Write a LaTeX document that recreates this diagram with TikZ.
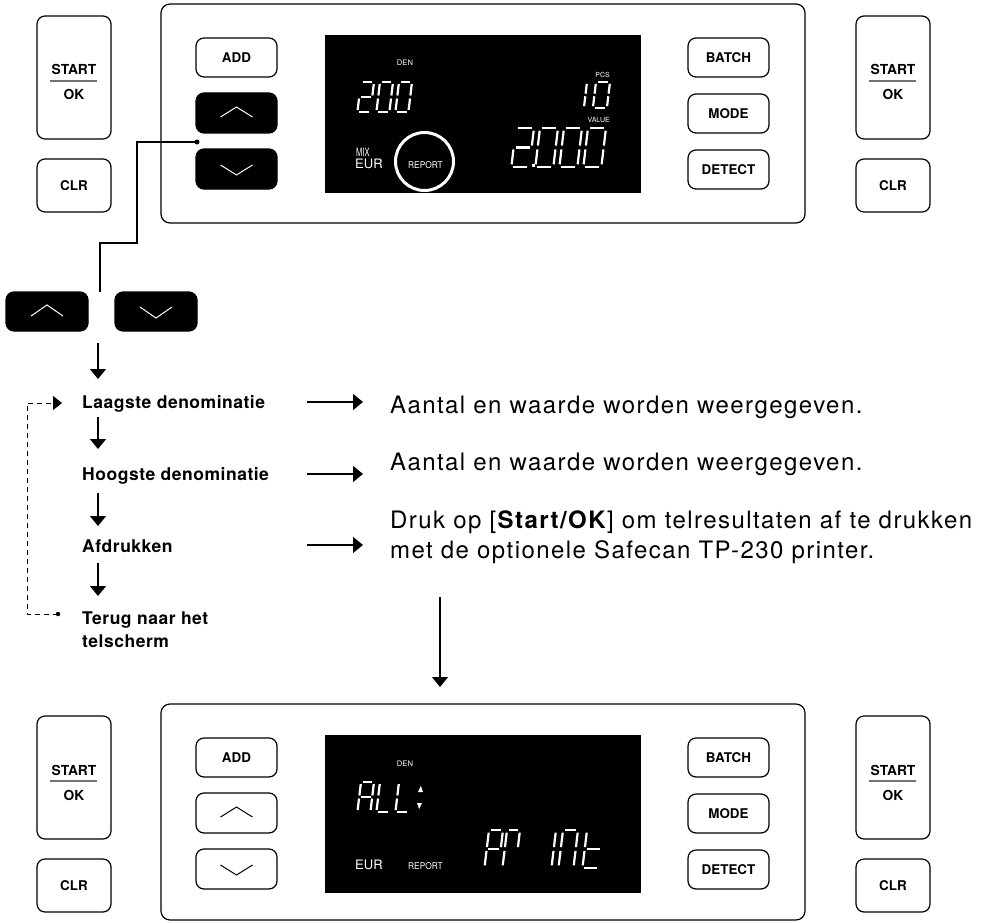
\documentclass[tikz,border=0pt]{standalone}
\usepackage{fontspec}
\usepackage{graphicx}
\setmainfont{TeX Gyre Heros}
\newfontfamily\rtfont[LetterSpace=6.0]{TeX Gyre Heros}
\newfontfamily\lbfont[LetterSpace=3.0]{TeX Gyre Heros}
\usetikzlibrary{arrows.meta}

% seven segment paths (normalised cell, v downward)
\def\sga{(0.12,0)--(0.88,0)}
\def\sgb{(1,0.07)--(1,0.45)}
\def\sgc{(1,0.55)--(1,0.93)}
\def\sgd{(0.12,1)--(0.88,1)}
\def\sge{(0,0.55)--(0,0.93)}
\def\sgf{(0,0.07)--(0,0.45)}
\def\sgg{(0.12,0.5)--(0.88,0.5)}

\tikzset{
  segline/.style={draw=white, line width=2.2pt},
  btn/.style={draw, line width=1.2pt, rounded corners=8pt, inner sep=0pt,
    font=\bfseries\fontsize{13.4}{14}\selectfont},
  blackbtn/.style={fill=black, draw=black, line width=1.2pt, rounded corners=8pt, inner sep=0pt},
  btntxt/.style={inner sep=0pt, font=\bfseries\fontsize{13.8}{14}\selectfont},
  sepline/.style={draw=black!55, line width=1.1pt},
  panel/.style={draw, line width=1.2pt, rounded corners=9pt, inner sep=0pt},
  chev/.style={line width=1pt},
  dtxt/.style={text=white, inner sep=0pt},
  flowlbl/.style={font=\lbfont\bfseries\fontsize{17.5}{21}\selectfont, inner sep=0pt, anchor=base west},
  rtxt/.style={font=\rtfont\fontsize{24}{28}\selectfont, inner sep=0pt, anchor=base west},
  flowarrow/.style={line width=1.3pt, -{Triangle[width=16pt,length=10pt]}},
  dasharrow/.style={line width=1pt, dash pattern=on 5pt off 4pt, -{Triangle[width=14pt,length=9pt]}},
  dotmark/.style={circle, fill=black, inner sep=0pt, minimum size=5pt},
}

\newcommand\sevenseg[5]{%
  \begin{scope}[shift={(#1,#2)},xslant=0.12,xscale=#3,yscale=#4]
    \foreach \s in {#5}{%
      \expandafter\let\expandafter\segpath\csname sg\s\endcsname
      \draw[segline] \segpath;}
  \end{scope}}

% #1 prefix, #2 y offset, #3 panel height, #4 arrow button style, #5 chevron colour
\newcommand\machine[5]{%
\begin{scope}[yshift=-#2pt]
  \node[panel, minimum width=644pt, minimum height=#3pt] (#1panel) at (483,{4+#3/2}) {};
  % left column
  \node[btn, minimum width=74pt, minimum height=123pt] (#1startL) at (74,77.5) {};
  \node[btntxt, anchor=base] (#1startLa) at (74,75) {START};
  \draw[sepline] (50,81) -- (97,81);
  \node[btntxt, anchor=base] (#1startLb) at (74,100) {OK};
  \node[btn, minimum width=74pt, minimum height=53pt] (#1clrL) at (74,185.5) {CLR};
  % inner left buttons
  \node[btn, minimum width=81pt, minimum height=39pt] (#1add) at (236.5,57.5) {ADD};
  \node[#4, minimum width=81pt, minimum height=40pt] (#1up) at (236.5,113) {};
  \draw[chev, draw=#5] ([shift={(-16,4)}]#1up.center) -- ([shift={(0,-6)}]#1up.center) -- ([shift={(16,4)}]#1up.center);
  \node[#4, minimum width=81pt, minimum height=40pt] (#1down) at (236.5,169) {};
  \draw[chev, draw=#5] ([shift={(-16,-4)}]#1down.center) -- ([shift={(0,6)}]#1down.center) -- ([shift={(16,-4)}]#1down.center);
  % display
  \node[fill=black, minimum width=316pt, minimum height=158pt, inner sep=0pt] (#1disp) at (483,114) {};
  % inner right buttons
  \node[btn, minimum width=81pt, minimum height=39pt] (#1batch) at (728.5,57.5) {BATCH};
  \node[btn, minimum width=81pt, minimum height=39pt] (#1mode) at (728.5,113.5) {MODE};
  \node[btn, minimum width=81pt, minimum height=39pt] (#1detect) at (728.5,169.5) {DETECT};
  % right column
  \node[btn, minimum width=74pt, minimum height=123pt] (#1startR) at (893,77.5) {};
  \node[btntxt, anchor=base] (#1startRa) at (893,75) {START};
  \draw[sepline] (869,81) -- (916,81);
  \node[btntxt, anchor=base] (#1startRb) at (893,100) {OK};
  \node[btn, minimum width=74pt, minimum height=53pt] (#1clrR) at (893,185.5) {CLR};
\end{scope}}

\begin{document}
\begin{tikzpicture}[x=1pt,y=-1pt]
\useasboundingbox (0,0) rectangle (990,923);

\machine{t}{0}{219}{blackbtn}{white}
\machine{b}{700}{216}{btn}{black}

% ---------- top display contents ----------
\node[dtxt, anchor=base, font=\fontsize{7.6}{8}\selectfont] (tden) at (405,66) {DEN};
\sevenseg{361}{82}{13}{30}{a,b,g,e,d}
\sevenseg{380}{82}{13}{30}{a,b,c,d,e,f}
\sevenseg{399}{82}{13}{30}{a,b,c,d,e,f}
\node[dtxt, anchor=base east, font=\fontsize{7}{8}\selectfont] (tpcs) at (610,78) {PCS};
\sevenseg{587}{82}{1}{26}{e,f}
\sevenseg{596}{82}{14}{26}{a,b,c,d,e,f}
\node[dtxt, anchor=base east, font=\fontsize{7}{8}\selectfont] (tval) at (610,123) {VALUE};
\sevenseg{516}{128}{18}{39}{a,b,g,e,d}
\fill[white] (531.5,163.5) rectangle (535,167);
\sevenseg{540}{128}{18}{39}{a,b,c,d,e,f}
\sevenseg{564}{128}{18}{39}{a,b,c,d,e,f}
\sevenseg{588}{128}{18}{39}{a,b,c,d,e,f}
\node[dtxt, anchor=base west, font=\fontsize{11.5}{12}\selectfont] (tmix) at (356,157) {\scalebox{0.66}[1]{MIX}};
\node[dtxt, anchor=base west, font=\fontsize{13}{13}\selectfont] (teur) at (355,168) {EUR};
\node[circle, draw=white, line width=3pt, minimum size=58pt, inner sep=0pt] (tring) at (424.5,161.5) {};
\node[dtxt, anchor=base, font=\fontsize{9.3}{10}\selectfont] (trep) at (425.5,168) {\scalebox{0.9}[1]{REPORT}};

% ---------- bottom display contents ----------
\node[dtxt, anchor=base, font=\fontsize{7.6}{8}\selectfont] (bden) at (405,766) {DEN};
\sevenseg{361}{782}{13}{30}{a,b,c,e,f,g}
\sevenseg{380}{782}{13}{30}{d,e,f}
\sevenseg{399}{782}{13}{30}{d,e,f}
\fill[white] (418,792) -- (423,792) -- (420.8,786) -- cycle;
\fill[white] (417,803) -- (422,803) -- (419.2,809) -- cycle;
\node[dtxt, anchor=base west, font=\fontsize{13}{13}\selectfont] (beur) at (355,869) {EUR};
\node[dtxt, anchor=base, font=\fontsize{9.3}{10}\selectfont] (brep) at (425.5,869) {\scalebox{0.9}[1]{REPORT}};
\sevenseg{489}{830}{14}{38}{a,b,e,f,g}
\sevenseg{507}{830}{13}{38}{a,b,e,f}
\sevenseg{556}{830}{1}{38}{e,f}
\sevenseg{563}{830}{15}{38}{a,b,c,e,f}
\sevenseg{587}{830}{17}{38}{d,e,f,g}

% ---------- connector from top arrows to small buttons ----------
\node[dotmark] (tdot) at (197,142) {};
\coordinate (c1) at (137,142);
\coordinate (c2) at (137,243);
\coordinate (c3) at (100,243);
\node[blackbtn, minimum width=82pt, minimum height=39pt] (sup) at (47,311.5) {};
\draw[chev, draw=white] ([shift={(-16,4.5)}]sup.center) -- ([shift={(0,-6.5)}]sup.center) -- ([shift={(16,4.5)}]sup.center);
\node[blackbtn, minimum width=82pt, minimum height=39pt] (sdown) at (156,311.5) {};
\draw[chev, draw=white] ([shift={(-16,-4.5)}]sdown.center) -- ([shift={(0,6.5)}]sdown.center) -- ([shift={(16,-4.5)}]sdown.center);
\coordinate (c4) at (100,292);
\draw[line width=1.2pt] (tdot.center) -- (c1) -- (c2) -- (c3) -- (c4);

% ---------- flow ----------
\node[flowlbl] (laag) at (82,408) {Laagste denominatie};
\node[flowlbl] (hoog) at (82,480) {Hoogste denominatie};
\node[flowlbl] (afdr) at (82,552) {Afdrukken};
\node[flowlbl] (terug1) at (82,624) {Terug naar het};
\node[flowlbl] (terug2) at (82,647) {telscherm};

\coordinate (a0s) at (98,343); \coordinate (a0e) at (98,379);
\coordinate (a1s) at (98,417); \coordinate (a1e) at (98,449);
\coordinate (a2s) at (98,493); \coordinate (a2e) at (98,526);
\coordinate (a3s) at (98,563); \coordinate (a3e) at (98,596);
\draw[flowarrow] (a0s) -- (a0e);
\draw[flowarrow] (a1s) -- (a1e);
\draw[flowarrow] (a2s) -- (a2e);
\draw[flowarrow] (a3s) -- (a3e);

% loop back
\node[dotmark, minimum size=4.5pt] (ldot) at (58,614) {};
\coordinate (l1) at (27,614);
\coordinate (l2) at (27,403);
\coordinate (l3) at (62,403);
\draw[dasharrow] (ldot.center) -- (l1) -- (l2) -- (l3);

% right descriptions
\node[rtxt] (r1) at (390,413) {Aantal en waarde worden weergegeven.};
\node[rtxt] (r2) at (390,470) {Aantal en waarde worden weergegeven.};
\node[rtxt] (r3) at (390,528) {Druk op [\textbf{Start/OK}] om telresultaten af te drukken};
\node[rtxt] (r4) at (390,558) {met de optionele Safecan TP-230 printer.};

\coordinate (h1s) at (307,402); \coordinate (h1e) at (363,402);
\coordinate (h2s) at (307,474); \coordinate (h2e) at (363,474);
\coordinate (h3s) at (307,545); \coordinate (h3e) at (363,545);
\draw[flowarrow] (h1s) -- (h1e);
\draw[flowarrow] (h2s) -- (h2e);
\draw[flowarrow] (h3s) -- (h3e);

% down to bottom panel
\coordinate (v1) at (440,597);
\coordinate (v2) at (440,687);
\draw[flowarrow] (v1) -- (v2);
\end{tikzpicture}
\end{document}
